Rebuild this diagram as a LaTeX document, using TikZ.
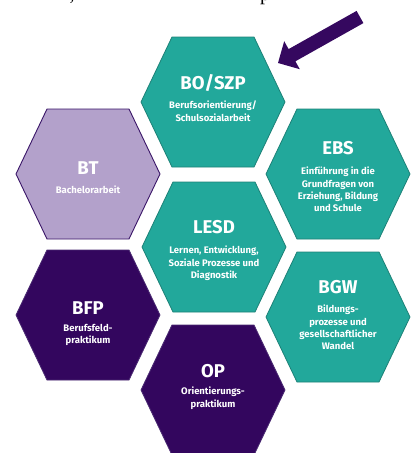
\documentclass[tikz,border=0pt]{standalone}
\usepackage{fontspec}
\setmainfont{Fira Sans}
\newfontfamily\serifx{Liberation Serif}
\definecolor{tealc}{HTML}{22A89B}
\definecolor{tealb}{HTML}{1D8177}
\definecolor{lavc}{HTML}{B3A1CB}
\definecolor{lavb}{HTML}{3A1668}
\definecolor{purc}{HTML}{33065E}
\definecolor{purb}{HTML}{4A2A72}
\definecolor{arrc}{HTML}{35085F}
\newcommand\hexpath[2]{\path[#1] (#2) +(-72,0) -- +(-41,-65) -- +(41,-65) -- +(72,0) -- +(41,65) -- +(-41,65) -- cycle;}
\begin{document}
\begin{tikzpicture}[x=1pt,y=-1pt,
  hteal/.style={fill=tealc, draw=tealb, line width=0.8pt},
  hlav/.style={fill=lavc, draw=lavb, line width=0.9pt},
  hpur/.style={fill=purc, draw=purb, line width=0.8pt},
  ttl/.style={text=white, font=\bfseries\fontsize{18.5}{20}\selectfont, inner sep=0pt, anchor=base},
  subt/.style={text=white, font=\bfseries\fontsize{9.5}{12.3}\selectfont, align=center, inner sep=0pt, anchor=north},
  frag/.style={font=\serifx\fontsize{20}{22}\selectfont, inner sep=0pt, anchor=base}]
\useasboundingbox (0,0) rectangle (414,453);
\coordinate (cBO) at (213,102);
\coordinate (cBT) at (88,174);
\coordinate (cEBS) at (338,174);
\coordinate (cLESD) at (214,247);
\coordinate (cBFP) at (88,315);
\coordinate (cBGW) at (338,317);
\coordinate (cOP) at (213,390);
\hexpath{hteal}{cBO}
\hexpath{hlav}{cBT}
\hexpath{hteal}{cEBS}
\hexpath{hteal}{cLESD}
\hexpath{hpur}{cBFP}
\hexpath{hteal}{cBGW}
\hexpath{hpur}{cOP}
% texts
\node[ttl] (tBO) at (213,89.5) {BO/SZP};
\node[subt] (sBO) at (213,101) {Berufsorientierung/\\Schulsozialarbeit};
\node[ttl] (tBT) at (88,174.5) {BT};
\node[subt] (sBT) at (88,186) {Bachelorarbeit};
\node[ttl] (tEBS) at (338,154.5) {EBS};
\node[subt] (sEBS) at (338,167) {Einführung in die\\Grundfragen von\\Erziehung, Bildung\\und Schule};
\node[ttl] (tLESD) at (214,233.5) {LESD};
\node[subt] (sLESD) at (214,246) {Lernen, Entwicklung,\\Soziale Prozesse und\\Diagnostik};
\node[ttl] (tBFP) at (88,314.5) {BFP};
\node[subt] (sBFP) at (88,324) {Berufsfeld-\\praktikum};
\node[ttl] (tBGW) at (338,293.5) {BGW};
\node[subt] (sBGW) at (338,305) {Bildungs-\\prozesse und\\gesellschaftlicher\\Wandel};
\node[ttl] (tOP) at (213,377.5) {OP};
\node[subt] (sOP) at (213,387) {Orientierungs-\\praktikum};
% arrow
\fill[arrc] (363.4,23.1) -- (295.4,61.3) -- (299.8,69.2) -- (278,63) -- (284.2,41.2) -- (288.6,49.1) -- (356.6,10.9) -- cycle;
% cut-off text fragments at the top edge
\node[frag] (f1) at (72,0) {,};
\node[frag] (f2) at (265,0.5) {p};
\end{tikzpicture}
\end{document}
